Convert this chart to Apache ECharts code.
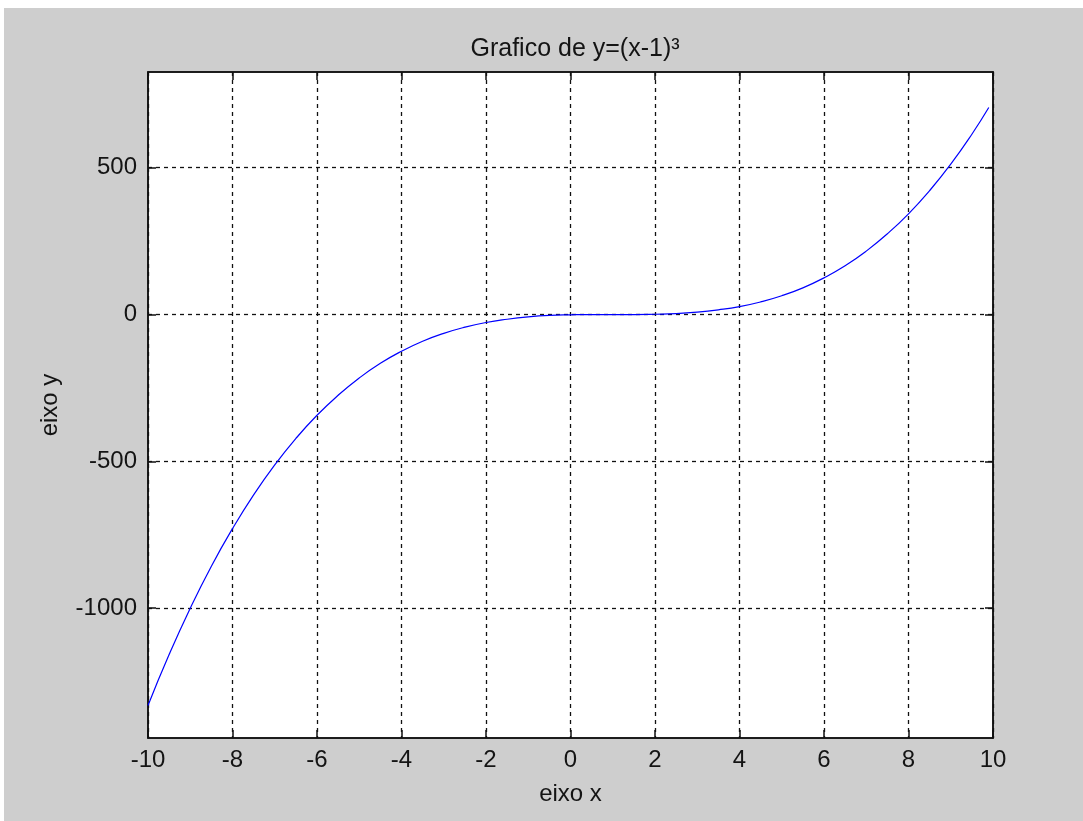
<!DOCTYPE html>
<html>
<head>
<meta charset="utf-8">
<script src="https://cdn.jsdelivr.net/npm/echarts@6/dist/echarts.min.js"></script>
<style>
html,body{margin:0;padding:0;background:#ffffff;width:1083px;height:821px;overflow:hidden;}
#chart{position:absolute;left:4px;top:8px;width:1079px;height:813px;background:#cecece;}
</style>
</head>
<body>
<div id="chart"></div>
<script>
// x values (step 0.5, last point at 9.9)
const xValues = [-10,-9.5,-9,-8.5,-8,-7.5,-7,-6.5,-6,-5.5,-5,-4.5,-4,-3.5,-3,-2.5,-2,-1.5,-1,-0.5,0,0.5,1,1.5,2,2.5,3,3.5,4,4.5,5,5.5,6,6.5,7,7.5,8,8.5,9,9.5,9.9];
// y values
const yValues = [-1331,-1158,-1000,-857,-729,-614,-512,-422,-343,-275,-216,-166,-125,-91,-64,-43,-27,-16,-8,-3,-1,0,0,0,1,3,8,16,27,43,64,91,125,166,216,275,343,422,512,614,705];
const yTicks = [-1000,-500,0,500];
const titleText = 'Grafico de y=(x-1)³';
const xName = 'eixo x';
const yName = 'eixo y';

const seriesData = xValues.map((x, i) => [x, yValues[i]]);
const font = 'Liberation Sans, Arial, sans-serif';
const txt = '#141414';
const gridLine = {show:true, lineStyle:{color:'#111', width:1.3, type:[4,4]}};

const chart = echarts.init(document.getElementById('chart'), null, {renderer:'canvas'});
chart.setOption({
  backgroundColor:'#cecece',
  animation:false,
  title:{text:titleText, top:24, left:566, textAlign:'center',
    textStyle:{fontFamily:font, fontSize:25, fontWeight:'normal', color:txt}},
  grid:{left:144, top:64, right:90, bottom:83, show:true, backgroundColor:'#ffffff', borderColor:'#111', borderWidth:1.5},
  xAxis:[{
    type:'value', min:-10, max:10, interval:2, position:'bottom',
    axisLine:{show:true, onZero:false, lineStyle:{color:'#111', width:1.5}},
    axisTick:{show:true, inside:true, length:8, lineStyle:{color:'#111', width:1.5}},
    axisLabel:{fontFamily:font, fontSize:24, color:txt, margin:10},
    splitLine:gridLine,
    name:xName, nameLocation:'middle', nameGap:44,
    nameTextStyle:{fontFamily:font, fontSize:24, color:txt}
  },{
    type:'value', min:-10, max:10, interval:2, position:'top',
    axisLine:{show:true, onZero:false, lineStyle:{color:'#111', width:1.5}},
    axisTick:{show:true, inside:true, length:8, lineStyle:{color:'#111', width:1.5}},
    axisLabel:{show:false}, splitLine:{show:false}
  }],
  yAxis:[{
    type:'value', min:-1442, max:826, position:'left',
    axisLine:{show:true, onZero:false, lineStyle:{color:'#111', width:1.5}},
    axisTick:{show:true, inside:true, length:8, customValues:yTicks, lineStyle:{color:'#111', width:1.5}},
    axisLabel:{fontFamily:font, fontSize:24, color:txt, margin:11, customValues:yTicks,
      formatter:function(v){return String(v);}},
    splitLine:gridLine,
    name:yName, nameLocation:'middle', nameGap:86, nameRotate:90,
    nameTextStyle:{fontFamily:font, fontSize:24, color:txt}
  },{
    type:'value', min:-1442, max:826, position:'right',
    axisLine:{show:true, onZero:false, lineStyle:{color:'#111', width:1.5}},
    axisTick:{show:true, inside:true, length:8, customValues:yTicks, lineStyle:{color:'#111', width:1.5}},
    axisLabel:{show:false, customValues:yTicks}, splitLine:{show:false}
  }],
  series:[{
    type:'line', xAxisIndex:0, yAxisIndex:0, data:seriesData,
    showSymbol:false, smooth:true, clip:true,
    lineStyle:{color:'#0000ff', width:1.2}
  }]
});
</script>
</body>
</html>
